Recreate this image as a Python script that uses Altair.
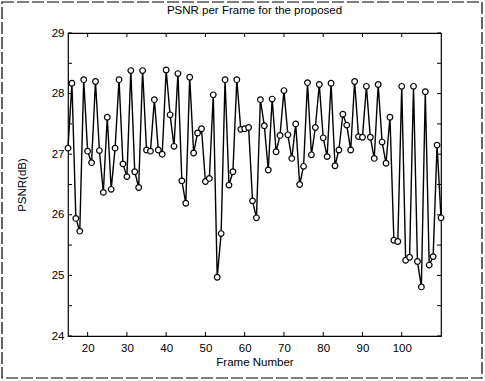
import altair as alt
import pandas as pd

frames = list(range(15, 111))
psnr = [
    27.10, 28.17, 25.94, 25.73, 28.23, 27.05, 26.86, 28.20, 27.06, 26.37,
    27.61, 26.42, 27.10, 28.23, 26.84, 26.63, 28.38, 26.71, 26.45, 28.38,
    27.07, 27.05, 27.90, 27.07, 27.00, 28.39, 27.65, 27.13, 28.33, 26.56,
    26.19, 28.27, 27.02, 27.35, 27.42, 26.55, 26.60, 27.98, 24.97, 25.69,
    28.23, 26.49, 26.71, 28.23, 27.41, 27.42, 27.44, 26.23, 25.95, 27.90,
    27.47, 26.74, 27.91, 27.04, 27.31, 28.05, 27.32, 26.93, 27.50, 26.50,
    26.80, 28.18, 26.99, 27.44, 28.15, 27.27, 26.96, 28.17, 26.81, 27.07,
    27.66, 27.48, 27.07, 28.20, 27.29, 27.28, 28.12, 27.28, 26.93, 28.15,
    27.20, 26.85, 27.61, 25.58, 25.56, 28.12, 25.25, 25.30, 28.12, 25.23,
    24.81, 28.03, 25.17, 25.31, 27.15, 25.95,
]
x_ticks = [20, 30, 40, 50, 60, 70, 80, 90, 100]
y_ticks = [24, 24.5, 25, 25.5, 26, 26.5, 27, 27.5, 28, 28.5, 29]

W, H = 373, 303
FONT = "Liberation Sans"

df = pd.DataFrame({"frame": frames, "psnr": psnr})
xt = pd.DataFrame({"t": x_ticks})
yt = pd.DataFrame({"v": y_ticks})

xscale = alt.Scale(domain=[15, 110], nice=False, zero=False)
yscale = alt.Scale(domain=[24, 29], nice=False, zero=False)

xaxis = alt.Axis(values=x_ticks, title="Frame Number", grid=False, domain=False,
                 ticks=False, labelPadding=6, labelFontSize=11.5, titleFontSize=11.5,
                 titleFontWeight="normal", titlePadding=3, labelFont=FONT, titleFont=FONT,
                 labelColor="black", titleColor="black")
yaxis = alt.Axis(values=y_ticks, title="PSNR(dB)", format=".1~f", grid=False, domain=False,
                 ticks=False, labelPadding=4, labelFontSize=11.5, titleFontSize=11.5,
                 titleFontWeight="normal", titlePadding=24, labelFont=FONT, titleFont=FONT,
                 labelColor="black", titleColor="black")

line = alt.Chart(df).mark_line(color="black", strokeWidth=1.4).encode(
    x=alt.X("frame:Q", scale=xscale, axis=xaxis),
    y=alt.Y("psnr:Q", scale=yscale, axis=yaxis),
)
pts = alt.Chart(df).mark_point(shape="circle", filled=False, color="black",
                               fill="white", fillOpacity=1, size=32, strokeWidth=1.2, opacity=1).encode(
    x=alt.X("frame:Q", scale=xscale),
    y=alt.Y("psnr:Q", scale=yscale),
)

xb = alt.Chart(xt).mark_rule(color="black", strokeWidth=1).encode(
    x=alt.X("t:Q", scale=xscale), y=alt.value(H), y2=alt.value(H - 4))
xtp = alt.Chart(xt).mark_rule(color="black", strokeWidth=1).encode(
    x=alt.X("t:Q", scale=xscale), y=alt.value(0), y2=alt.value(4))
yl = alt.Chart(yt).mark_rule(color="black", strokeWidth=1).encode(
    y=alt.Y("v:Q", scale=yscale), x=alt.value(0), x2=alt.value(4))
yr = alt.Chart(yt).mark_rule(color="black", strokeWidth=1).encode(
    y=alt.Y("v:Q", scale=yscale), x=alt.value(W), x2=alt.value(W - 4))

border = alt.Chart(pd.DataFrame({"a": [0]})).mark_rect(
    filled=False, stroke="black", strokeWidth=1.2, strokeDash=[12, 3]).encode(
    x=alt.value(-66), x2=alt.value(414), y=alt.value(-31), y2=alt.value(345))

chart = alt.layer(border, xb, xtp, yl, yr, line, pts).properties(
    width=W, height=H,
    title=alt.Title("PSNR per Frame for the proposed", fontSize=11.5, fontWeight="normal",
                    font=FONT, color="black", offset=0, dy=15),
    autosize=alt.AutoSizeParams(type="none"),
    padding={"left": 68, "top": 33, "right": 44, "bottom": 45},
    background="white",
).configure_view(stroke="black", strokeWidth=1.2)

chart.save("out.html", embed_options={"renderer": "svg", "actions": False})
